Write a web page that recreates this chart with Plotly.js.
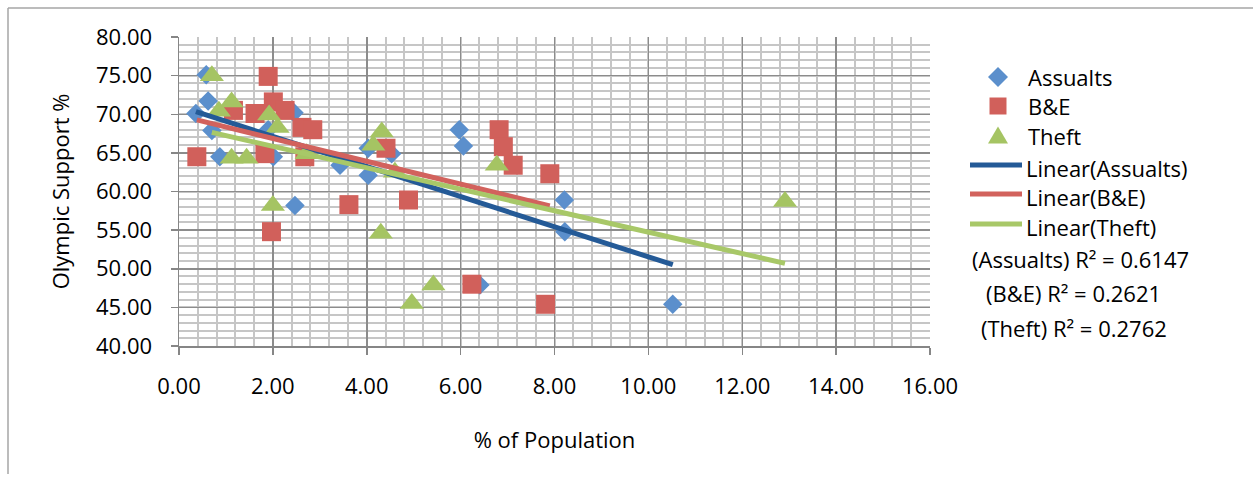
<!DOCTYPE html>
<html>
<head>
<meta charset="utf-8">
<script src="https://cdn.plot.ly/plotly-3.0.1.min.js"></script>
<style>
  html, body { margin: 0; padding: 0; background: #ffffff; }
  #chart { width: 1253px; height: 482px; }
</style>
</head>
<body>
<div id="chart"></div>
<script>
// Olympic support vs. share of population, by offence type
const seriesNames = ['Assualts', 'B&E', 'Theft'];

const assaultsX = [0.58, 0.62, 0.36, 0.70, 0.87, 1.90, 2.01, 2.45, 2.47, 3.43, 4.03, 4.03, 4.53, 5.97, 6.06, 6.41, 8.21, 8.22, 10.52];
const assaultsY = [75.1, 71.7, 70.1, 67.9, 64.5, 68.0, 64.5, 70.2, 58.2, 63.4, 65.6, 62.1, 64.9, 68.0, 65.9, 47.9, 58.9, 54.8, 45.4];

const breakEnterX = [0.38, 1.16, 1.62, 1.83, 1.90, 1.97, 2.01, 2.26, 2.62, 2.85, 2.68, 3.62, 4.41, 4.89, 6.24, 6.82, 6.91, 7.12, 7.81, 7.90];
const breakEnterY = [64.5, 70.5, 70.1, 64.9, 74.9, 54.8, 71.6, 70.5, 68.3, 68.0, 64.5, 58.3, 65.6, 58.9, 48.0, 68.0, 65.8, 63.4, 45.4, 62.3];

const theftX = [0.70, 0.85, 1.12, 1.12, 1.44, 1.92, 2.00, 2.10, 2.72, 4.14, 4.30, 4.32, 4.60, 4.96, 5.42, 6.77, 12.91];
const theftY = [75.0, 70.4, 71.6, 64.3, 64.3, 69.9, 58.2, 68.3, 64.9, 66.0, 54.6, 67.7, 62.5, 45.5, 47.9, 63.4, 58.7];

// Linear trendline coefficients (y = slope * x + intercept) and fit quality
const trendSlope = [-1.95, -1.48, -1.388];
const trendIntercept = [71.04, 69.83, 68.62];
const rSquared = ['0.6147', '0.2621', '0.2762'];

const xTickVals = [0, 2, 4, 6, 8, 10, 12, 14, 16];
const yTickVals = [40, 45, 50, 55, 60, 65, 70, 75, 80];

const markerColors = ['#5B8FCC', '#D1605B', '#A5C463'];
const lineColors = ['#245A97', '#D2625D', '#A8C868'];
const markerSymbols = ['diamond', 'square', 'triangle-up'];
const markerSizes = [15, 19, 21];

const FONT = 'Open Sans, DejaVu Sans, sans-serif';

const xs = [assaultsX, breakEnterX, theftX];
const ys = [assaultsY, breakEnterY, theftY];

const traces = [];
for (let i = 0; i < 3; i++) {
  traces.push({
    type: 'scatter', mode: 'markers', name: seriesNames[i],
    x: xs[i], y: ys[i], showlegend: false, cliponaxis: false,
    marker: { symbol: markerSymbols[i], size: markerSizes[i], color: markerColors[i], line: { width: 0 } },
    hoverinfo: 'x+y'
  });
}
for (let i = 0; i < 3; i++) {
  const x0 = Math.min(...xs[i]);
  const x1 = Math.max(...xs[i]);
  traces.push({
    type: 'scatter', mode: 'lines', name: 'Linear(' + seriesNames[i] + ')',
    x: [x0, x1],
    y: [trendSlope[i] * x0 + trendIntercept[i], trendSlope[i] * x1 + trendIntercept[i]],
    showlegend: false,
    line: { color: lineColors[i], width: 5 },
    hoverinfo: 'skip'
  });
}

// Plot area geometry (pixels) used to place the side key
const W = 1253, H = 482;
const M = { l: 179, r: 323, t: 37, b: 136 };
const plotW = W - M.l - M.r, plotH = H - M.t - M.b;
const px = v => (v - M.l) / plotW;
const py = v => (H - M.b - v) / plotH;

const shapes = [];
const annotations = [];

// Chart frame
shapes.push({ type: 'line', xref: 'paper', yref: 'paper', x0: px(8), x1: px(1260), y0: py(8), y1: py(8), line: { color: '#a6a6a6', width: 1.5 } });
shapes.push({ type: 'line', xref: 'paper', yref: 'paper', x0: px(8), x1: px(8), y0: py(8), y1: py(474), line: { color: '#a6a6a6', width: 1.5 } });

// Key: marker symbols
const keyMarkerPaths = [
  'M0,10L10,0L0,-10L-10,0Z',
  'M-8.5,-8.5L8.5,-8.5L8.5,8.5L-8.5,8.5Z',
  'M-10,-7.5L10,-7.5L0,9.5Z'
];
const keyRowY = [77, 106, 136, 165, 194, 224];
for (let i = 0; i < 3; i++) {
  shapes.push({
    type: 'path', xref: 'paper', yref: 'paper', xsizemode: 'pixel', ysizemode: 'pixel',
    xanchor: px(998), yanchor: py(keyRowY[i]), path: keyMarkerPaths[i],
    fillcolor: markerColors[i], line: { width: 0 }
  });
  annotations.push({
    xref: 'paper', yref: 'paper', x: px(1026), y: py(keyRowY[i]), xanchor: 'left', yanchor: 'middle',
    text: seriesNames[i], showarrow: false, font: { family: FONT, size: 22, color: '#000' }
  });
}
// Key: trendline samples
for (let i = 0; i < 3; i++) {
  const yy = keyRowY[3 + i];
  shapes.push({
    type: 'line', xref: 'paper', yref: 'paper', x0: px(970), x1: px(1022), y0: py(yy), y1: py(yy),
    line: { color: lineColors[i], width: 5 }
  });
  annotations.push({
    xref: 'paper', yref: 'paper', x: px(1024), y: py(yy + 3), xanchor: 'left', yanchor: 'middle',
    text: 'Linear(' + seriesNames[i] + ')', showarrow: false, font: { family: FONT, size: 22, color: '#000' }
  });
}
// R² labels
const r2Centers = [[1080, 259], [1073, 293], [1074, 328]];
for (let i = 0; i < 3; i++) {
  annotations.push({
    xref: 'paper', yref: 'paper', x: px(r2Centers[i][0]), y: py(r2Centers[i][1]), xanchor: 'center', yanchor: 'middle',
    text: '(' + seriesNames[i] + ') R² = ' + rSquared[i], showarrow: false,
    font: { family: FONT, size: 22, color: '#000' }
  });
}

const layout = {
  width: W, height: H,
  margin: M,
  paper_bgcolor: '#ffffff', plot_bgcolor: '#ffffff',
  font: { family: FONT, size: 22, color: '#000' },
  showlegend: false,
  xaxis: {
    range: [0, 16], tickvals: xTickVals, tickformat: '.2f',
    showgrid: true, gridcolor: '#8c8c8c', gridwidth: 1.5,
    minor: { dtick: 0.4, showgrid: true, gridcolor: '#c6c6c6', gridwidth: 2 },
    showline: true, linecolor: '#868686', linewidth: 1.5,
    ticks: 'outside', ticklen: 7, tickcolor: '#868686', tickwidth: 1.5,
    ticklabelstandoff: 13, zeroline: false,
    tickfont: { family: FONT, size: 22, color: '#000' },
    title: { text: '% of Population', font: { family: FONT, size: 22, color: '#000' }, standoff: 33 }
  },
  yaxis: {
    range: [40, 80], tickvals: yTickVals, tickformat: '.2f',
    showgrid: true, gridcolor: '#8c8c8c', gridwidth: 1.5,
    minor: { dtick: 1, showgrid: true, gridcolor: '#c6c6c6', gridwidth: 2 },
    showline: true, linecolor: '#868686', linewidth: 1.5,
    ticks: 'outside', ticklen: 7, tickcolor: '#868686', tickwidth: 1.5,
    ticklabelstandoff: 14, zeroline: false,
    tickfont: { family: FONT, size: 22, color: '#000' },
    title: { text: 'Olympic Support %', font: { family: FONT, size: 22, color: '#000' }, standoff: 20 }
  },
  shapes: shapes,
  annotations: annotations
};

Plotly.newPlot('chart', traces, layout, { displayModeBar: false, staticPlot: true });
</script>
</body>
</html>
